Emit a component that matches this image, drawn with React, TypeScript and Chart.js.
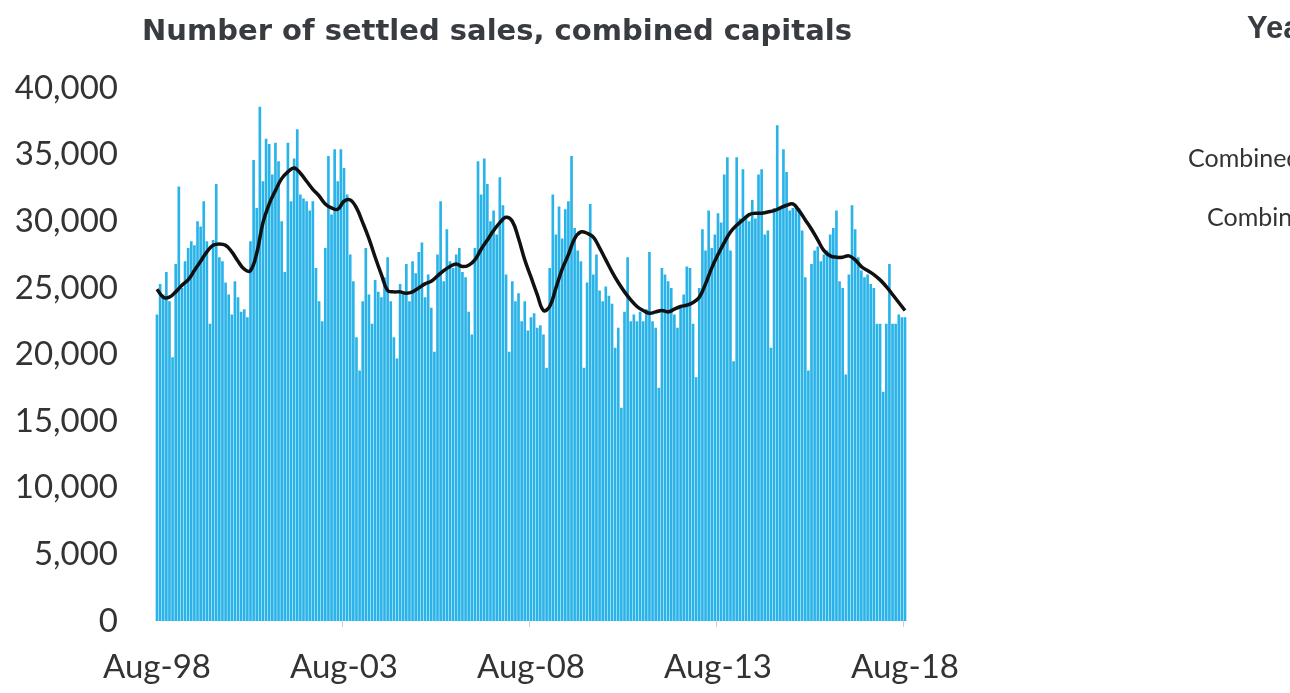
import React, { useEffect, useRef } from "react";
import { Chart, registerables } from "chart.js";

Chart.register(...registerables);

// ---- Data (monthly settled sales, combined capitals) ----
const START_MONTH = 7; // August (0-based)
const START_YEAR = 1998;
const MONTH_NAMES = ["Jan", "Feb", "Mar", "Apr", "May", "Jun", "Jul", "Aug", "Sep", "Oct", "Nov", "Dec"];

// Aug-98 .. Jul-03
const sales1998to2003 = [
  23000, 25300, 24500, 26200, 24000, 19800, 26800, 32600, 25000, 27000, 28000, 28500,
  28200, 30000, 29600, 31500, 28500, 22300, 28600, 32800, 27300, 27000, 25400, 24500,
  23000, 25500, 24300, 23200, 23400, 22800, 28500, 34600, 31000, 38600, 33000, 36200,
  35800, 33500, 35900, 34500, 30000, 26200, 35900, 31500, 34700, 36900, 32000, 31700,
  31500, 30800, 31500, 26500, 24000, 22500, 28000, 34900, 30500, 35400, 33000, 35400,
];
// Aug-03 .. Jul-08
const sales2003to2008 = [
  34000, 32000, 27500, 25500, 21300, 18800, 24000, 28000, 24500, 22300, 25600, 24700,
  24300, 25800, 27300, 24000, 21300, 19700, 25300, 24600, 26800, 24000, 27000, 26100,
  27700, 28400, 24300, 26000, 23500, 20200, 27500, 31500, 25500, 29400, 27000, 26500,
  27500, 28000, 26200, 25800, 23200, 21500, 28000, 34500, 32000, 34700, 32800, 30000,
  30800, 29000, 33300, 31200, 26000, 20200, 25500, 24000, 24600, 22500, 24000, 21800,
];
// Aug-08 .. Jul-13
const sales2008to2013 = [
  22800, 23100, 22000, 22200, 21500, 19000, 26500, 32000, 29000, 31100, 28700, 30900,
  31500, 34900, 29500, 27800, 27000, 19000, 25400, 31300, 26000, 27500, 24800, 24000,
  25100, 24400, 23800, 20500, 22000, 16000, 23200, 27300, 22500, 23000, 22500, 23200,
  22500, 23400, 27700, 22500, 22000, 17500, 26500, 26000, 25500, 25000, 23000, 22000,
  23500, 24500, 26600, 26500, 22300, 18300, 25000, 29400, 27800, 30800, 28000, 29000,
];
// Aug-13 .. Aug-18
const sales2013to2018 = [
  30600, 29900, 33500, 34800, 27800, 19500, 34800, 30200, 33900, 30400, 30000, 31600,
  30200, 33500, 33900, 29000, 29300, 20500, 31000, 37200, 31000, 35400, 33700, 30800,
  31000, 31200, 31000, 29300, 25800, 18800, 26800, 27800, 28100, 27000, 27500, 27800,
  29000, 29500, 30800, 25500, 25000, 18500, 26000, 31200, 29400, 27300, 26300, 25800,
  26000, 25300, 25000, 22300, 22300, 17200, 22300, 26800, 22300, 22300, 23000, 22800,
  22800,
];

// 12-month trend, read every second month starting Aug-98
const TREND_STEP = 2;
const trendValues = [
  24900, 24300, 24300, 24700, 25200, 25600, 26300, 27000, 27700, 28200,
  28300, 28200, 27700, 27000, 26400, 26300, 27600, 29900, 31300, 32300,
  33200, 33700, 34000, 33600, 33000, 32400, 31900, 31300, 31000, 30900,
  31500, 31600, 31000, 29900, 28700, 27300, 26000, 24800, 24700, 24700,
  24600, 24700, 25000, 25300, 25500, 25900, 26300, 26600, 26800, 26600,
  26700, 27100, 27900, 28600, 29300, 29900, 30300, 30000, 28700, 27100,
  25800, 24500, 23300, 23600, 25000, 26400, 27500, 28700, 29200, 29100,
  28800, 28000, 27100, 26200, 25400, 24700, 24100, 23600, 23300, 23100,
  23200, 23300, 23200, 23400, 23600, 23700, 23900, 24300, 25300, 26500,
  27500, 28400, 29200, 29700, 30100, 30500, 30600, 30600, 30700, 30800,
  31000, 31200, 31300, 30800, 30100, 29400, 28600, 27800, 27400, 27300,
  27300, 27400, 27100, 26600, 26300, 26000, 25600, 25100, 24500, 23900,
  23300,
];

const xTickLabels = ["Aug-98", "Aug-03", "Aug-08", "Aug-13", "Aug-18"];
const yMin = 0;
const yMax = 40000;
const yStep = 5000;

const TITLE = "Number of settled sales, combined capitals";
const sideTitle = "Year";
const sideRows = ["Combined", "Combined"];

const sales = [...sales1998to2003, ...sales2003to2008, ...sales2008to2013, ...sales2013to2018];
const monthLabels = sales.map((_, i) => {
  const m = (START_MONTH + i) % 12;
  const y = START_YEAR + Math.floor((START_MONTH + i) / 12);
  return `${MONTH_NAMES[m]}-${String(y % 100).padStart(2, "0")}`;
});
const trendPoints = trendValues.map((v, k) => ({ x: monthLabels[k * TREND_STEP], y: v }));

const textPlugin = {
  id: "textPlugin",
  afterDraw(chart: any) {
    const ctx = chart.ctx as CanvasRenderingContext2D;
    ctx.save();
    ctx.fillStyle = "#383c41";
    ctx.textBaseline = "alphabetic";
    ctx.textAlign = "center";
    ctx.font = 'bold 29px "DejaVu Sans", sans-serif';
    ctx.fillText(TITLE, 497, 40);
    ctx.textAlign = "left";
    ctx.font = 'bold 31px "Liberation Sans", Arial, sans-serif';
    ctx.fillText(sideTitle, 1247, 38);
    ctx.fillStyle = "#333333";
    ctx.font = '25px Lato, "Open Sans", sans-serif';
    ctx.fillText(sideRows[0], 1188, 167);
    ctx.fillText(sideRows[1], 1207, 226);
    ctx.restore();
  },
};

export default function App() {
  const canvasRef = useRef<HTMLCanvasElement | null>(null);

  useEffect(() => {
    const canvas = canvasRef.current;
    if (!canvas) return;
    const chart = new Chart(canvas, {
      data: {
        labels: monthLabels,
        datasets: [
          {
            type: "line",
            data: trendPoints as any,
            borderColor: "#111111",
            borderWidth: 3.5,
            pointRadius: 0,
            tension: 0.4,
            order: 0,
            clip: false as any,
          },
          {
            type: "bar",
            data: sales,
            backgroundColor: "#2ab3e8",
            barPercentage: 0.85,
            categoryPercentage: 1,
            order: 1,
            clip: false as any,
          },
        ],
      },
      options: {
        responsive: false,
        animation: false,
        layout: { padding: { left: 0, right: 385, top: 88, bottom: 0 } },
        plugins: {
          legend: { display: false },
          tooltip: { enabled: false },
          title: { display: false },
        },
        scales: {
          x: {
            type: "category",
            offset: false,
            grid: {
              display: true,
              drawOnChartArea: false,
              drawTicks: true,
              tickLength: 6,
              color: (c: any) =>
                xTickLabels.includes(monthLabels[c.index]) ? "#cfcfcf" : "rgba(0,0,0,0)",
            },
            border: { display: false },
            ticks: {
              autoSkip: false,
              maxRotation: 0,
              minRotation: 0,
              padding: 21,
              color: "#333333",
              font: { family: "Lato", size: 33 },
              callback: (_v: any, i: number) =>
                xTickLabels.includes(monthLabels[i]) ? monthLabels[i] : "",
            },
            afterFit: (s: any) => {
              s.height = 72;
            },
          },
          y: {
            min: yMin,
            max: yMax,
            grid: { display: false, drawTicks: false },
            border: { display: false },
            ticks: {
              stepSize: yStep,
              padding: 39,
              color: "#333333",
              font: { family: "Lato", size: 33 },
              callback: (v: any) => Number(v).toLocaleString("en-US"),
            },
            afterFit: (s: any) => {
              s.width = 157;
            },
          },
        },
      },
      plugins: [textPlugin],
    });
    return () => chart.destroy();
  }, []);

  return (
    <div
      style={{
        position: "fixed",
        left: 0,
        top: 0,
        width: 1290,
        height: 693,
        background: "#ffffff",
      }}
    >
      <canvas ref={canvasRef} width={1290} height={693} style={{ display: "block" }} />
    </div>
  );
}
